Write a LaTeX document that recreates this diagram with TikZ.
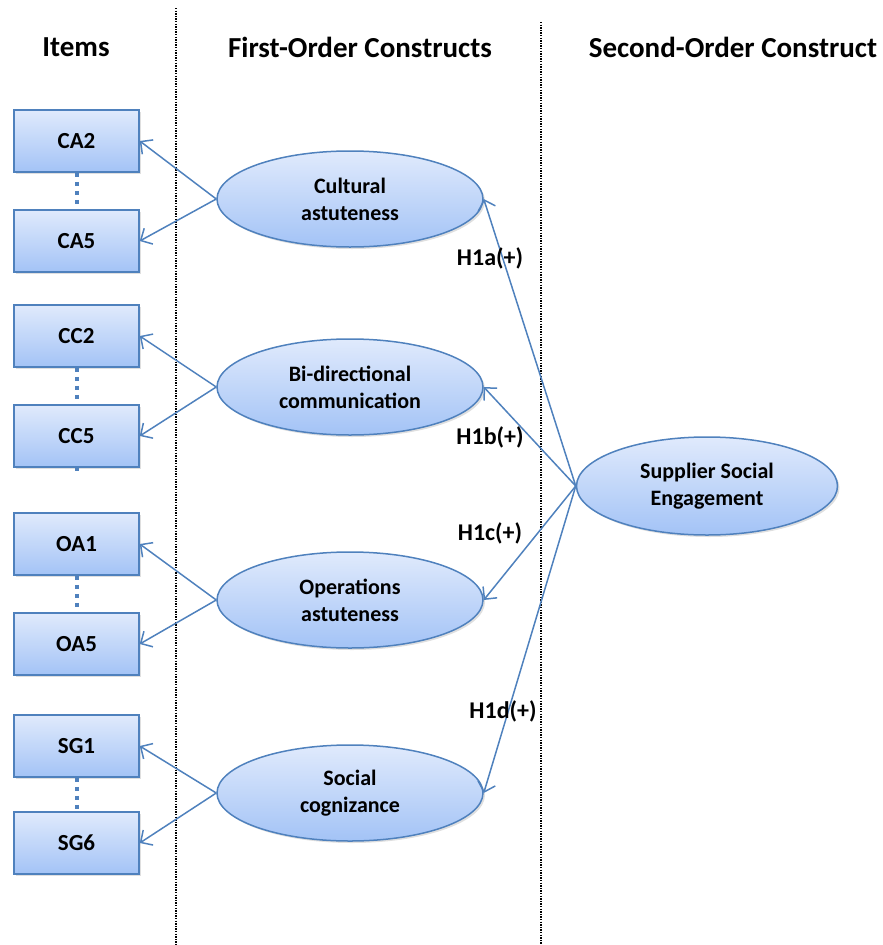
\documentclass[tikz,border=0pt]{standalone}
\usepackage{fontspec}
\setmainfont{Carlito}
\usetikzlibrary{arrows.meta,shapes.geometric,shadows}
\definecolor{lineblue}{RGB}{79,129,189}
\definecolor{filltop}{RGB}{224,234,252}
\definecolor{fillbot}{RGB}{163,195,246}
\tikzset{
  itembox/.style={rectangle, draw=lineblue, line width=1.5pt, top color=filltop, bottom color=fillbot,
    minimum width=125pt, minimum height=62pt, inner sep=0pt, font=\fontsize{23}{27}\selectfont\bfseries,
    drop shadow={opacity=0.25, shadow xshift=2pt, shadow yshift=-2pt}},
  construct/.style={ellipse, draw=lineblue, line width=1.5pt, top color=filltop, bottom color=fillbot,
    minimum width=266pt, minimum height=96pt, inner sep=0pt, align=center,
    font=\fontsize{22}{27}\selectfont\bfseries,
    drop shadow={opacity=0.25, shadow xshift=2pt, shadow yshift=-2pt}},
  header/.style={font=\fontsize{29}{33}\selectfont\bfseries, inner sep=0pt},
  hyp/.style={font=\fontsize{24}{28}\selectfont\bfseries, inner sep=0pt},
  link/.style={draw=lineblue, line width=1.5pt, -{Straight Barb[length=9pt,width=18pt,line width=1.5pt]}},
  itemdots/.style={draw=lineblue, line width=4pt, dash pattern=on 4pt off 5pt},
  divider/.style={draw=black, line width=1.3pt, dash pattern=on 1.3pt off 1.3pt},
}
\begin{document}
\begin{tikzpicture}[x=1pt,y=-1pt]
\useasboundingbox (0,0) rectangle (883,945);
% dividers
\coordinate (d1t) at (176,8);
\coordinate (d1b) at (176,945);
\coordinate (d2t) at (541,22);
\coordinate (d2b) at (541,945);
\draw[divider] (d1t) -- (d1b);
\draw[divider] (d2t) -- (d2b);
% headers
\node[header] (h1) at (76,47) {Items};
\node[header] (h2) at (360,47) {First-Order Constructs};
\node[header] (h3) at (733,47) {Second-Order Construct};
% item boxes
\node[itembox] (ca2) at (76.5,141) {CA2};
\node[itembox] (ca5) at (76.5,241) {CA5};
\node[itembox] (cc2) at (76.5,336) {CC2};
\node[itembox] (cc5) at (76.5,436) {CC5};
\node[itembox] (oa1) at (76.5,544) {OA1};
\node[itembox] (oa5) at (76.5,644) {OA5};
\node[itembox] (sg1) at (76.5,746) {SG1};
\node[itembox] (sg6) at (76.5,843) {SG6};
\draw[itemdots] (ca2.south) -- (ca5.north);
\draw[itemdots] (cc2.south) -- (cc5.north);
\draw[itemdots] (oa1.south) -- (oa5.north);
\draw[itemdots] (sg1.south) -- (sg6.north);
\fill[lineblue] (74.5,467) rectangle (78.5,471);
% constructs
\node[construct] (ca) at (350,199) {Cultural\\astuteness};
\node[construct] (cc) at (350,387) {Bi-directional\\communication};
\node[construct] (oa) at (350,600) {Operations\\astuteness};
\node[construct] (sg) at (350,793) {Social\\cognizance};
\node[construct, minimum width=261pt, minimum height=98pt] (sse) at (707,486) {Supplier Social\\Engagement};
% item links
\draw[link] (ca.west) -- (ca2.east);
\draw[link] (ca.west) -- (ca5.east);
\draw[link] (cc.west) -- (cc2.east);
\draw[link] (cc.west) -- (cc5.east);
\draw[link] (oa.west) -- (oa1.east);
\draw[link] (oa.west) -- (oa5.east);
\draw[link] (sg.west) -- (sg1.east);
\draw[link] (sg.west) -- (sg6.east);
% second order links
\draw[link] (sse.west) -- (ca.east);
\draw[link] (sse.west) -- (cc.east);
\draw[link] (sse.west) -- (oa.east);
\draw[link] (sse.west) -- (sg.east);
% hypothesis labels
\node[hyp] (la) at (490,258) {H1a(+)};
\node[hyp] (lb) at (490,437) {H1b(+)};
\node[hyp] (lc) at (490,533) {H1c(+)};
\node[hyp] (ld) at (503,711) {H1d(+)};
\end{tikzpicture}
\end{document}
